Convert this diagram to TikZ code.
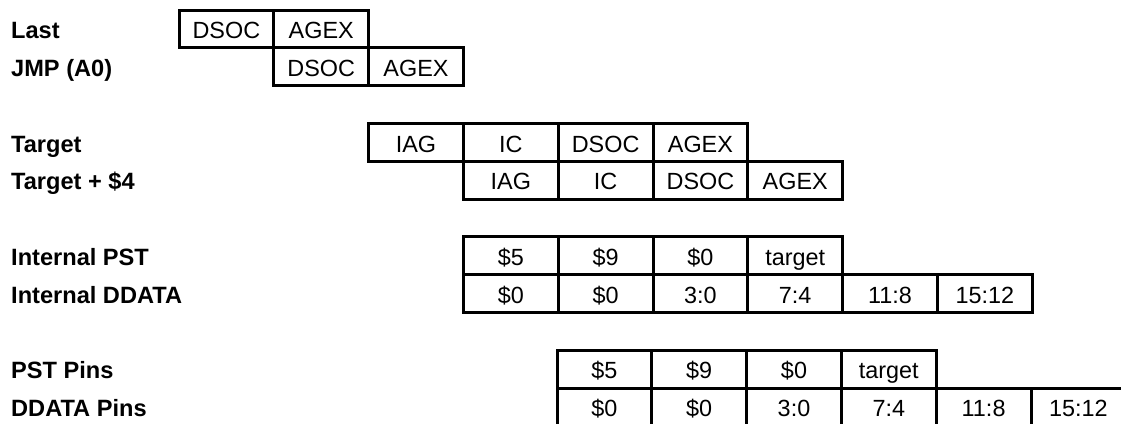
\documentclass[tikz,border=0pt]{standalone}
\usepackage{fontspec}
\setmainfont{Liberation Sans}
\begin{document}
\begin{tikzpicture}[x=1pt,y=-1pt,
  cell/.style={draw, line width=3pt, minimum width=94.8pt, minimum height=37.8pt,
    anchor=north west, outer sep=0pt, inner sep=0pt, text height=19.5pt, text depth=0pt,
    font=\fontsize{23.4}{28}\selectfont},
  lab/.style={anchor=west, inner sep=0pt, text height=19.5pt, text depth=0pt,
    font=\fontsize{23.6}{28}\selectfont\bfseries}]
\useasboundingbox (0,0) rectangle (1121,423);
% labels
\node[lab] (l1) at (11,28.9) {Last};
\node[lab] (l2) at (11,66.7) {JMP (A0)};
\node[lab] (l3) at (11,142.3) {Target};
\node[lab] (l4) at (11,180.1) {Target + \$4};
\node[lab] (l5) at (11,255.7) {Internal PST};
\node[lab] (l6) at (11,293.5) {Internal DDATA};
\node[lab] (l7) at (11,369.1) {PST Pins};
\node[lab] (l8) at (11,406.9) {DDATA Pins};
% rows of cells
\foreach \t [count=\i from 0] in {DSOC,AGEX}
  \node[cell] (ra\i) at (179+94.8*\i,10) {\t};
\foreach \t [count=\i from 0] in {DSOC,AGEX}
  \node[cell] (rb\i) at (273.8+94.8*\i,47.8) {\t};
\foreach \t [count=\i from 0] in {IAG,IC,DSOC,AGEX}
  \node[cell] (rc\i) at (368.6+94.8*\i,123.4) {\t};
\foreach \t [count=\i from 0] in {IAG,IC,DSOC,AGEX}
  \node[cell] (rd\i) at (463.4+94.8*\i,161.2) {\t};
\foreach \t [count=\i from 0] in {\$5,\$9,\$0,target}
  \node[cell] (re\i) at (463.4+94.8*\i,236.8) {\t};
\foreach \t [count=\i from 0] in {\$0,\$0,3:0,7:4,11:8,15:12}
  \node[cell] (rf\i) at (463.4+94.8*\i,274.6) {\t};
\foreach \t [count=\i from 0] in {\$5,\$9,\$0,target}
  \node[cell] (rg\i) at (557+94.8*\i,350.2) {\t};
\foreach \t [count=\i from 0] in {\$0,\$0,3:0,7:4,11:8,15:12}
  \node[cell] (rh\i) at (557+94.8*\i,388) {\t};
\end{tikzpicture}
\end{document}
